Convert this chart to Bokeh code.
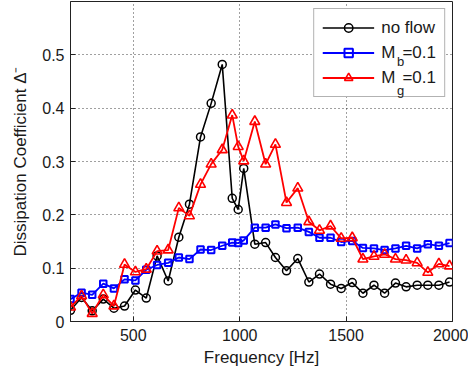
from bokeh.plotting import figure
from bokeh.models import (Range1d, FixedTicker, CustomJSTickFormatter, Legend,
                          LegendItem)
from bokeh.embed import file_html
from bokeh.resources import INLINE

# ---- data ----
freq = [205, 257, 307, 359, 409, 459, 510, 561, 612, 664,
        714, 764, 816, 866, 918, 965, 993, 1019, 1071, 1122,
        1168, 1220, 1273, 1325, 1375, 1427, 1477, 1529, 1579, 1631,
        1681, 1732, 1782, 1834, 1884, 1936, 1986]
no_flow = [0.021, 0.045, 0.020, 0.042, 0.025, 0.029, 0.059, 0.044, 0.123, 0.076,
           0.158, 0.220, 0.346, 0.409, 0.482, 0.231, 0.210, 0.287, 0.145, 0.148,
           0.120, 0.095, 0.118, 0.074, 0.089, 0.070, 0.062, 0.073, 0.053, 0.068,
           0.053, 0.072, 0.065, 0.068, 0.068, 0.068, 0.074]
mach_b = [0.042, 0.054, 0.050, 0.071, 0.062, 0.079, 0.077, 0.097, 0.106, 0.110,
          0.120, 0.117, 0.135, 0.134, 0.142, 0.148, 0.147, 0.152, 0.176, 0.176,
          0.182, 0.175, 0.176, 0.168, 0.157, 0.157, 0.149, 0.151, 0.138, 0.137,
          0.134, 0.137, 0.142, 0.137, 0.145, 0.142, 0.147]
mach_g = [0.027, 0.048, 0.015, 0.050, 0.029, 0.107, 0.093, 0.098, 0.132, 0.134,
          0.213, 0.198, 0.257, 0.295, 0.322, 0.387, 0.328, 0.301, 0.375, 0.295,
          0.332, 0.223, 0.250, 0.187, 0.171, 0.179, 0.156, 0.157, 0.117, 0.122,
          0.126, 0.117, 0.115, 0.110, 0.092, 0.108, 0.104]
x_ticks = [500, 1000, 1500, 2000]
y_ticks = [0, 0.1, 0.2, 0.3, 0.4, 0.5]
legend_labels = ["no flow", "M\u2004\u200a=0.1", "M\u2004\u200a=0.1"]
subscripts = ["b", "g"]

FONT = "Liberation Sans"
TXT = "#1a1a1a"

p = figure(width=468, height=376, output_backend="svg", toolbar_location=None,
           x_range=Range1d(205, 2000), y_range=Range1d(0, 0.6),
           min_border_left=70, min_border_right=16, min_border_top=1,
           min_border_bottom=55)
p.background_fill_color = "white"
p.border_fill_color = "white"
p.outline_line_color = "#222222"
p.outline_line_width = 1

# axes
p.xaxis.ticker = FixedTicker(ticks=x_ticks)
p.yaxis.ticker = FixedTicker(ticks=y_ticks)
p.yaxis.formatter = CustomJSTickFormatter(code="return String(Math.round(tick*10)/10);")
for ax in (p.xaxis[0], p.yaxis[0]):
    ax.major_tick_in = 5
    ax.major_tick_out = 0
    ax.minor_tick_line_color = None
    ax.axis_line_color = "#222222"
    ax.major_tick_line_color = "#222222"
    ax.major_label_text_font = FONT
    ax.major_label_text_font_size = "16px"
    ax.major_label_text_color = TXT
    ax.axis_label_text_font = FONT
    ax.axis_label_text_font_size = "17px"
    ax.axis_label_text_font_style = "normal"
    ax.axis_label_text_color = TXT
p.xaxis.axis_label = "Frequency [Hz]"
p.yaxis.axis_label = "Dissipation Coefficient \u0394\u207b"
p.xaxis.major_label_standoff = 7
p.yaxis.major_label_standoff = 6
p.xaxis.axis_label_standoff = 4
p.yaxis.axis_label_standoff = 9

# grid
p.xgrid.ticker = FixedTicker(ticks=x_ticks)
p.ygrid.ticker = FixedTicker(ticks=y_ticks)
for g in (p.xgrid[0], p.ygrid[0]):
    g.grid_line_color = "black"
    g.grid_line_alpha = 0.75
    g.grid_line_dash = "1 3"
    g.grid_line_width = 1

# series
l1 = p.line(freq, no_flow, line_color="black", line_width=1.6)
m1 = p.scatter(freq, no_flow, marker="circle", size=8, line_color="black",
               fill_color=None, line_width=1.5)
l2 = p.line(freq, mach_b, line_color="#0000ff", line_width=1.8)
m2 = p.scatter(freq, mach_b, marker="square", size=6.5, line_color="#0000ff",
               fill_color=None, line_width=2)
l3 = p.line(freq, mach_g, line_color="#ff0000", line_width=1.8)
m3 = p.scatter(freq, mach_g, marker="triangle", size=10, line_color="#ff0000",
               fill_color=None, line_width=1.6)

legend = Legend(items=[
    LegendItem(label=legend_labels[0], renderers=[l1, m1]),
    LegendItem(label=legend_labels[1], renderers=[l2, m2]),
    LegendItem(label=legend_labels[2], renderers=[l3, m3]),
])
legend.location = "top_right"
legend.margin = 7
legend.padding = 8
legend.spacing = 4
legend.glyph_width = 52
legend.glyph_height = 21
legend.label_height = 21
legend.label_width = 54
legend.label_standoff = 7
legend.label_text_font = FONT
legend.label_text_font_size = "17px"
legend.label_text_color = TXT
legend.border_line_color = "#666666"
legend.border_line_width = 1.2
legend.background_fill_color = "white"
legend.background_fill_alpha = 1
p.add_layout(legend)

# subscripts "b" and "g" of the legend entries: a transparent, borderless second
# legend drawn over the first one, with an invisible (empty) glyph
ghost = p.line([], [], line_alpha=0)
sub_legend = Legend(items=[LegendItem(label=s, renderers=[ghost]) for s in subscripts])
sub_legend.location = "top_left"
sub_legend.margin = 50
sub_legend.padding = 0
sub_legend.spacing = 9
sub_legend.glyph_width = 1
sub_legend.glyph_height = 20
sub_legend.label_height = 20
sub_legend.label_width = 8
sub_legend.label_standoff = 276
sub_legend.label_text_font = FONT
sub_legend.label_text_font_size = "13px"
sub_legend.label_text_color = TXT
sub_legend.border_line_color = None
sub_legend.background_fill_alpha = 0
p.add_layout(sub_legend)

open("out.html", "w").write(file_html(p, INLINE))
